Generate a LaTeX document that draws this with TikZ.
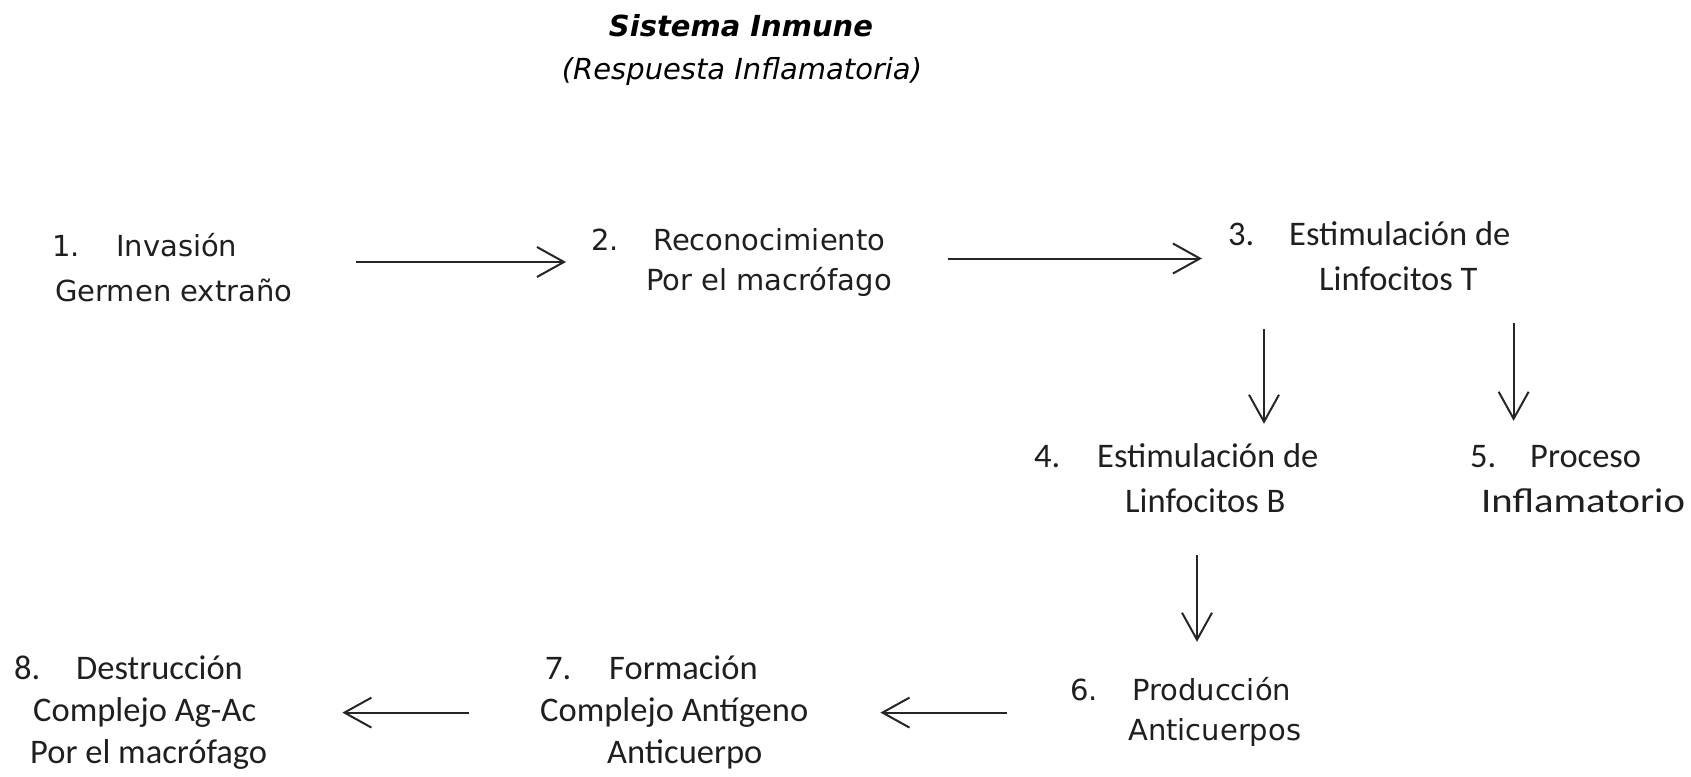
\documentclass[tikz,border=0pt]{standalone}
\usepackage{fontspec}
\setmainfont{Carlito}
\newfontfamily\verd{DejaVu Sans}
\usetikzlibrary{arrows.meta}

\newcommand{\steptext}[1]{\begin{tabular}[t]{@{}l@{}}#1\end{tabular}}
\newcommand{\numlabel}[2]{\makebox[#1pt][l]{#2}}

\tikzset{
  verdtext/.style={font=\verd\fontsize{29}{#1}\selectfont, anchor=base west, inner sep=0pt, text=black!88},
  calitext/.style={font=\fontsize{34.5}{#1}\selectfont, anchor=base west, inner sep=0pt, text=black!88},
  arr/.style={-{Straight Barb[length=27pt,width=30pt]}, line width=2pt, black!85}
}

\begin{document}
\begin{tikzpicture}[x=1pt, y=-1pt]
    \useasboundingbox (0,0) rectangle (1691,776);

    % Title
    \node[font=\verd\bfseries\itshape\fontsize{29}{35}\selectfont, anchor=base] (title) at (741,37) {Sistema Inmune};
    \node[font=\verd\itshape\fontsize{29}{35}\selectfont, anchor=base] (subtitle) at (742,80) {(Respuesta Inflamatoria)};

    % Steps
    \node[verdtext=45] (n1) at (52,256) {\steptext{\numlabel{64}{1.}Invasión\\ \hspace*{3pt}Germen extraño}};
    \node[verdtext=40] (n2) at (591,250) {\steptext{\numlabel{62}{2.}Reconocimiento\\ \hspace*{55pt}Por el macrófago}};
    \node[calitext=45] (n3) at (1228,245) {\steptext{\numlabel{61}{3.}Estimulación de\\ \hspace*{91pt}Linfocitos T}};
    \node[calitext=45] (n4) at (1034,467) {\steptext{\numlabel{63}{4.}Estimulación de\\ \hspace*{91pt}Linfocitos B}};
    \node[calitext=45] (n5) at (1470,467) {\steptext{\numlabel{60}{5.}Proceso\\ \hspace*{11pt}\scalebox{1.18}[1]{Inflamatorio}}};
    \node[verdtext=40] (n6) at (1070,700) {\steptext{\numlabel{62}{6.}Producción\\ \hspace*{58pt}Anticuerpos}};
    \node[calitext=42] (n7) at (540,679) {\steptext{\hspace*{5pt}\numlabel{64}{7.}Formación\\ Complejo Antígeno\\ \hspace*{67pt}Anticuerpo}};
    \node[calitext=42] (n8) at (14,679) {\steptext{\numlabel{62}{8.}Destrucción\\ \hspace*{19pt}Complejo Ag-Ac\\ \hspace*{16pt}Por el macrófago}};

    % Arrows to the right
    \draw[arr, shorten <=63pt, shorten >=25pt] (n1.east |- n2.west) -- (n2.west);
    \draw[arr, shorten <=56pt, shorten >=26pt] (n2.east |- n3.west) -- (n3.west);

    % Arrows down
    \coordinate (t34) at ([xshift=36pt]n3.south west);
    \coordinate (t35) at ([xshift=3pt]n3.south east);
    \coordinate (t46) at ([xshift=163pt]n4.south west);
    \draw[arr, shorten <=25.5pt, shorten >=11.5pt] (t34) -- (t34 |- n4.north);
    \draw[arr, shorten <=19.5pt, shorten >=14.5pt] (t35) -- (t35 |- n5.north);
    \draw[arr, shorten <=29.5pt, shorten >=30pt] (t46) -- (t46 |- n6.north);

    % Arrows to the left
    \draw[arr, shorten <=63pt, shorten >=72pt] (n6.west |- n7.east) -- (n7.east);
    \draw[arr, shorten <=71pt, shorten >=75pt] (n7.west |- n8.east) -- (n8.east);
\end{tikzpicture}
\end{document}
